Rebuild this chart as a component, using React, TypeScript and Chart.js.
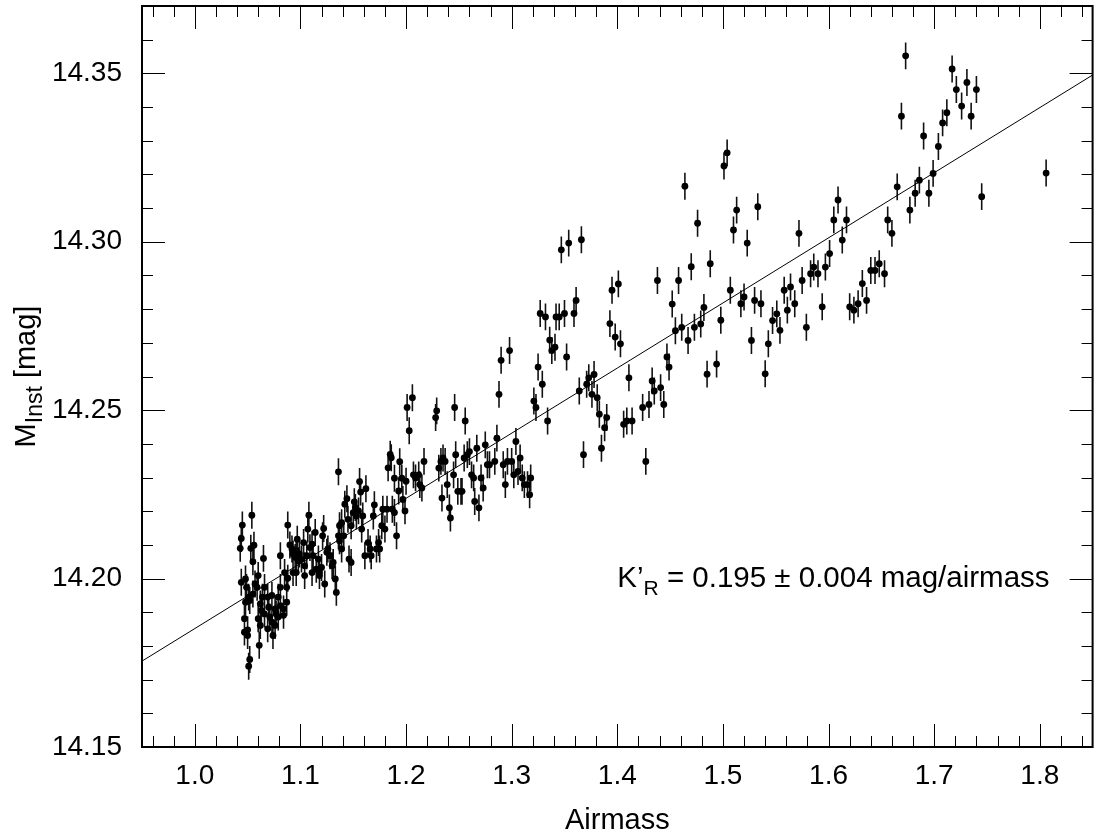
import React, { useEffect, useRef } from "react";
import { Chart, registerables } from "chart.js";

Chart.register(...registerables);

// ---------------- data ----------------
const AIRMASS: number[] = [
  // dense low-airmass cluster
  1.045, 1.044, 1.043, 1.054, 1.053, 1.056, 1.055, 1.065, 1.044, 1.048,
  1.049, 1.057, 1.060, 1.059, 1.055, 1.051, 1.048, 1.052, 1.066, 1.064,
  1.069, 1.073, 1.079, 1.081, 1.087, 1.062, 1.063, 1.066, 1.070, 1.071,
  1.076, 1.077, 1.081, 1.084, 1.087, 1.060, 1.062, 1.069, 1.073, 1.076,
  1.079, 1.084, 1.047, 1.047, 1.050, 1.050, 1.061, 1.074, 1.052, 1.051,
  1.081, 1.085, 1.088,
  // 1.09 - 1.135
  1.088, 1.090, 1.092, 1.093, 1.095, 1.097, 1.096, 1.098, 1.099, 1.101,
  1.103, 1.104, 1.106, 1.107, 1.108, 1.109, 1.111, 1.112, 1.114, 1.115,
  1.117, 1.118, 1.120, 1.121, 1.122, 1.123, 1.125, 1.126, 1.128, 1.130,
  1.131, 1.133, 1.134, 1.136, 1.093, 1.096, 1.104, 1.111, 1.118,
  // 1.135 - 1.20
  1.137, 1.139, 1.136, 1.137, 1.139, 1.141, 1.142, 1.144, 1.145, 1.146,
  1.148, 1.148, 1.150, 1.151, 1.152, 1.153, 1.155, 1.156, 1.157, 1.159,
  1.162, 1.158, 1.161, 1.164, 1.166, 1.167, 1.169, 1.170, 1.172, 1.174,
  1.175, 1.177, 1.178, 1.180, 1.182, 1.183, 1.185, 1.186, 1.187, 1.189,
  1.189, 1.191, 1.193, 1.194, 1.196, 1.197, 1.199,
  // 1.20 - 1.32
  1.201, 1.206, 1.203, 1.229, 1.228, 1.246, 1.256, 1.288, 1.329, 1.321,
  1.323, 1.334, 1.200, 1.207, 1.209, 1.212, 1.213, 1.215, 1.217, 1.231,
  1.233, 1.235, 1.237, 1.234, 1.239, 1.241, 1.242, 1.245, 1.247, 1.249,
  1.252, 1.253, 1.255, 1.258, 1.260, 1.262, 1.264, 1.265, 1.267, 1.269,
  1.271, 1.273, 1.275, 1.277, 1.279, 1.284, 1.286, 1.292, 1.294, 1.296,
  1.300, 1.302, 1.304, 1.306, 1.308, 1.310, 1.312, 1.315, 1.317, 1.318,
  // 1.29 - 1.515
  1.347, 1.354, 1.366, 1.290, 1.298, 1.327, 1.332, 1.342, 1.345, 1.350,
  1.359, 1.361, 1.336, 1.338, 1.341, 1.352, 1.325, 1.364, 1.371, 1.373,
  1.378, 1.376, 1.381, 1.383, 1.388, 1.390, 1.385, 1.368, 1.393, 1.398,
  1.403, 1.395, 1.401, 1.411, 1.406, 1.409, 1.414, 1.424, 1.430, 1.433,
  1.435, 1.441, 1.444, 1.427, 1.438, 1.447, 1.449, 1.452, 1.455, 1.458,
  1.461, 1.467, 1.470, 1.473, 1.476, 1.479, 1.482, 1.485, 1.488, 1.494,
  1.498, 1.507, 1.510, 1.513,
  // 1.50 - 1.70
  1.501, 1.504, 1.523, 1.533, 1.572, 1.517, 1.520, 1.530, 1.536, 1.527,
  1.540, 1.543, 1.547, 1.551, 1.554, 1.558, 1.561, 1.564, 1.568, 1.575,
  1.579, 1.583, 1.586, 1.590, 1.594, 1.597, 1.601, 1.605, 1.609, 1.613,
  1.617, 1.620, 1.624, 1.628, 1.632, 1.636, 1.640, 1.644, 1.648, 1.653,
  1.656, 1.660, 1.665, 1.677, 1.682, 1.686, 1.695, 1.699,
  // high airmass
  1.673, 1.669, 1.717, 1.721, 1.731, 1.740, 1.726, 1.735, 1.712, 1.708,
  1.690, 1.704, 1.806, 1.745,
  1.464,
];

const MAG: number[] = [
  14.2159, 14.2119, 14.2090, 14.2188, 14.2090, 14.2099, 14.2050, 14.2060, 14.1989, 14.1999,
  14.1974, 14.1984, 14.2009, 14.1974, 14.1954, 14.1945, 14.1930, 14.1935, 14.1974, 14.1945,
  14.1945, 14.1950, 14.1945, 14.1974, 14.1974, 14.1925, 14.1905, 14.1895, 14.1915, 14.1886,
  14.1910, 14.1895, 14.1920, 14.1910, 14.1930, 14.1881, 14.1861, 14.1851, 14.1871, 14.1861,
  14.1886, 14.1891, 14.1881, 14.1841, 14.1848, 14.1831, 14.1802, 14.1831, 14.1760, 14.1740,
  14.2068, 14.2018, 14.2001,
  14.2159, 14.2100, 14.2088, 14.2073, 14.2063, 14.2117, 14.2083, 14.2053, 14.2073, 14.2058,
  14.2107, 14.2038, 14.2068, 14.2147, 14.2188, 14.2092, 14.2102, 14.2068, 14.2137, 14.2028,
  14.2058, 14.2018, 14.2033, 14.2127, 14.2149, 14.1984, 14.2078, 14.2088, 14.2068, 14.2038,
  14.2048, 14.1999, 14.1959, 14.2317, 14.2018, 14.2018, 14.2009, 14.2018, 14.2009,
  14.2157, 14.2166, 14.2127, 14.2112, 14.2088, 14.2127, 14.2221, 14.2237, 14.2176, 14.2058,
  14.2048, 14.2157, 14.2196, 14.2228, 14.2211, 14.2186, 14.2201, 14.2288, 14.2257, 14.2186,
  14.2267, 14.2147, 14.2068, 14.2107, 14.2088, 14.2068, 14.2186, 14.2219, 14.2088, 14.2107,
  14.2088, 14.2157, 14.2206, 14.2147, 14.2206, 14.2329, 14.2369, 14.2359, 14.2206, 14.2298,
  14.2196, 14.2127, 14.2260, 14.2347, 14.2298, 14.2235, 14.2201,
  14.2508, 14.2537, 14.2439, 14.2498, 14.2478, 14.2508, 14.2468, 14.2547, 14.2577, 14.2527,
  14.2508, 14.2468, 14.2289, 14.2308, 14.2299, 14.2308, 14.2279, 14.2269, 14.2348, 14.2328,
  14.2348, 14.2358, 14.2348, 14.2239, 14.2279, 14.2210, 14.2180, 14.2308, 14.2368, 14.2259,
  14.2259, 14.2259, 14.2358, 14.2368, 14.2377, 14.2308, 14.2299, 14.2229, 14.2387, 14.2210,
  14.2299, 14.2269, 14.2397, 14.2338, 14.2338, 14.2348, 14.2417, 14.2338, 14.2279, 14.2348,
  14.2348, 14.2308, 14.2407, 14.2318, 14.2358, 14.2299, 14.2279, 14.2279, 14.2249, 14.2299,
  14.2976, 14.2996, 14.3006, 14.2648, 14.2677, 14.2787, 14.2777, 14.2777, 14.2777, 14.2787,
  14.2787, 14.2826, 14.2708, 14.2677, 14.2687, 14.2658, 14.2628, 14.2557, 14.2577, 14.2596,
  14.2606, 14.2547, 14.2537, 14.2488, 14.2448, 14.2478, 14.2387, 14.2368, 14.2757, 14.2717,
  14.2697, 14.2856, 14.2875, 14.2596, 14.2458, 14.2468, 14.2468, 14.2508, 14.2517, 14.2587,
  14.2557, 14.2567, 14.2517, 14.2348, 14.2885, 14.2658, 14.2628, 14.2815, 14.2736, 14.2885,
  14.2746, 14.2707, 14.2926, 14.2746, 14.3055, 14.2756, 14.2805, 14.2607, 14.2935, 14.2637,
  14.2767, 14.2856, 14.3035, 14.3094,
  14.3225, 14.3264, 14.2996, 14.3104, 14.3025, 14.2816, 14.2836, 14.2826, 14.2816, 14.2707,
  14.2608, 14.2697, 14.2766, 14.2786, 14.2737, 14.2856, 14.2797, 14.2866, 14.2816, 14.2885,
  14.2746, 14.2905, 14.2925, 14.2905, 14.2807, 14.2925, 14.2965, 14.3065, 14.3124, 14.3005,
  14.3065, 14.2807, 14.2797, 14.2816, 14.2876, 14.2826, 14.2915, 14.2915, 14.2935, 14.2905,
  14.3065, 14.3025, 14.3163, 14.3094, 14.3144, 14.3183, 14.3144, 14.3203,
  14.3552, 14.3373, 14.3513, 14.3452, 14.3473, 14.3452, 14.3403, 14.3373, 14.3383, 14.3353,
  14.3314, 14.3283, 14.3204, 14.3134,
  14.3165,
];

const MAG_ERR = 0.004;

// linear fit (extinction line)
const FIT_X: number[] = [0.95, 1.85];
const FIT_Y: number[] = [14.1755, 14.3495];

// axes
const X_MIN = 0.95;
const X_MAX = 1.85;
const Y_MIN = 14.15;
const Y_MAX = 14.37;
const X_TICKS: number[] = [1.0, 1.1, 1.2, 1.3, 1.4, 1.5, 1.6, 1.7, 1.8];
const Y_TICKS: number[] = [14.15, 14.2, 14.25, 14.3, 14.35];
const X_MINOR_STEP = 0.02;
const Y_MINOR_STEP = 0.01;

const X_TITLE = "Airmass";
const Y_TITLE_MAIN = "M";
const Y_TITLE_SUB = "Inst";
const Y_TITLE_REST = " [mag]";
const NOTE_MAIN = "K\u2019";
const NOTE_SUB = "R";
const NOTE_REST = " = 0.195 \u00b1 0.004 mag/airmass";
const NOTE_AT = { x: 1.4, y: 14.1976 };

const FONT = '"Liberation Sans", Arial, Helvetica, sans-serif';

const errorBars = {
  id: "errorBars",
  beforeDatasetsDraw(chart: any) {
    const { ctx, chartArea, scales } = chart;
    const x = scales.x;
    const y = scales.y;
    ctx.save();
    ctx.beginPath();
    ctx.rect(chartArea.left, chartArea.top, chartArea.right - chartArea.left, chartArea.bottom - chartArea.top);
    ctx.clip();
    ctx.strokeStyle = "#111";
    ctx.lineWidth = 1.6;
    ctx.beginPath();
    for (let i = 0; i < AIRMASS.length; i++) {
      const px = x.getPixelForValue(AIRMASS[i]);
      ctx.moveTo(px, y.getPixelForValue(MAG[i] - MAG_ERR));
      ctx.lineTo(px, y.getPixelForValue(MAG[i] + MAG_ERR));
    }
    ctx.stroke();
    ctx.restore();
  },
};

const frameAndText = {
  id: "frameAndText",
  afterDraw(chart: any) {
    const { ctx, chartArea, scales } = chart;
    const x = scales.x;
    const y = scales.y;
    const { left, right, top, bottom } = chartArea;
    ctx.save();
    // frame
    ctx.strokeStyle = "#000";
    ctx.lineWidth = 2;
    ctx.strokeRect(left, top, right - left, bottom - top);

    // ticks
    ctx.lineWidth = 1;
    ctx.beginPath();
    const MAJ = 23;
    const MIN = 11;
    const near = (a: number, b: number) => Math.abs(a - b) < 1e-6;
    for (let v = X_MIN + X_MINOR_STEP / 2; v < X_MAX; v += X_MINOR_STEP) {
      const val = Math.round(v * 100) / 100;
      if (val <= X_MIN || val >= X_MAX) continue;
      const isMaj = X_TICKS.some((t) => near(t, val));
      const len = isMaj ? MAJ : MIN;
      const px = Math.round(x.getPixelForValue(val)) + 0.5;
      ctx.moveTo(px, bottom);
      ctx.lineTo(px, bottom - len);
      ctx.moveTo(px, top);
      ctx.lineTo(px, top + len);
    }
    for (let v = Y_MIN; v < Y_MAX + 1e-9; v += Y_MINOR_STEP) {
      const val = Math.round(v * 100) / 100;
      if (val <= Y_MIN || val >= Y_MAX) continue;
      const isMaj = Y_TICKS.some((t) => near(t, val));
      const len = isMaj ? MAJ : MIN;
      const py = Math.round(y.getPixelForValue(val)) + 0.5;
      ctx.moveTo(left, py);
      ctx.lineTo(left + len, py);
      ctx.moveTo(right, py);
      ctx.lineTo(right - len, py);
    }
    ctx.stroke();

    ctx.fillStyle = "#000";
    // x title
    ctx.font = `29px ${FONT}`;
    ctx.textAlign = "center";
    ctx.textBaseline = "alphabetic";
    ctx.fillText(X_TITLE, (left + right) / 2, 829);

    // y title (rotated, with subscript)
    const bigF = `29px ${FONT}`;
    const subF = `23px ${FONT}`;
    ctx.font = bigF;
    const wM = ctx.measureText(Y_TITLE_MAIN).width;
    const wR = ctx.measureText(Y_TITLE_REST).width;
    ctx.font = subF;
    const wS = ctx.measureText(Y_TITLE_SUB).width;
    const total = wM + wS + wR;
    ctx.save();
    ctx.translate(35, (top + bottom) / 2);
    ctx.rotate(-Math.PI / 2);
    ctx.textAlign = "left";
    let cx = -total / 2;
    ctx.font = bigF;
    ctx.fillText(Y_TITLE_MAIN, cx, 0);
    cx += wM;
    ctx.font = subF;
    ctx.fillText(Y_TITLE_SUB, cx, 7);
    cx += wS;
    ctx.font = bigF;
    ctx.fillText(Y_TITLE_REST, cx, 0);
    ctx.restore();

    // annotation
    const noteF = `29.5px ${FONT}`;
    const noteSubF = `21px ${FONT}`;
    const ax = x.getPixelForValue(NOTE_AT.x);
    const ay = y.getPixelForValue(NOTE_AT.y);
    ctx.textAlign = "left";
    let nx = ax;
    ctx.font = noteF;
    ctx.fillText(NOTE_MAIN, nx, ay);
    nx += ctx.measureText(NOTE_MAIN).width;
    ctx.font = noteSubF;
    ctx.fillText(NOTE_SUB, nx, ay + 8);
    nx += ctx.measureText(NOTE_SUB).width;
    ctx.font = noteF;
    ctx.fillText(NOTE_REST, nx, ay);

    ctx.restore();
  },
};

export default function App() {
  const ref = useRef<HTMLCanvasElement | null>(null);

  useEffect(() => {
    if (!ref.current) return;
    const points = AIRMASS.map((a, i) => ({ x: a, y: MAG[i] }));
    const fit = FIT_X.map((a, i) => ({ x: a, y: FIT_Y[i] }));
    const chart = new Chart(ref.current, {
      type: "scatter",
      data: {
        datasets: [
          {
            label: "data",
            data: points,
            pointRadius: 3.4,
            pointHoverRadius: 3.4,
            backgroundColor: "#000",
            borderColor: "#000",
            borderWidth: 0,
          },
          {
            label: "fit",
            data: fit,
            showLine: true,
            borderColor: "#000",
            borderWidth: 1,
            pointRadius: 0,
            fill: false,
          },
        ],
      },
      options: {
        responsive: false,
        animation: false,
        devicePixelRatio: 1,
        layout: { padding: { left: 0, right: 3, top: 6, bottom: 0 } },
        plugins: { legend: { display: false }, tooltip: { enabled: false } },
        events: [],
        scales: {
          x: {
            type: "linear",
            min: X_MIN,
            max: X_MAX,
            grid: { display: false, drawTicks: false },
            border: { display: false },
            afterBuildTicks: (s: any) => {
              s.ticks = X_TICKS.map((v) => ({ value: v }));
            },
            afterFit: (s: any) => {
              s.height = 89;
              s.paddingLeft = 0;
              s.paddingRight = 0;
              s.paddingTop = 0;
              s.paddingBottom = 0;
            },
            ticks: {
              callback: (v: any) => Number(v).toFixed(1),
              font: { family: FONT, size: 28 },
              color: "#000",
              padding: 12,
              maxRotation: 0,
              autoSkip: false,
            },
          },
          y: {
            type: "linear",
            min: Y_MIN,
            max: Y_MAX,
            grid: { display: false, drawTicks: false },
            border: { display: false },
            afterBuildTicks: (s: any) => {
              s.ticks = Y_TICKS.map((v) => ({ value: v }));
            },
            afterFit: (s: any) => {
              s.width = 142;
              s.paddingLeft = 0;
              s.paddingRight = 0;
              s.paddingTop = 0;
              s.paddingBottom = 0;
            },
            ticks: {
              callback: (v: any) => Number(v).toFixed(2),
              font: { family: FONT, size: 28 },
              color: "#000",
              padding: 20,
              autoSkip: false,
            },
          },
        },
      },
      plugins: [errorBars, frameAndText],
    });
    return () => chart.destroy();
  }, []);

  return (
    <div style={{ position: "absolute", left: 0, top: 0, width: 1096, height: 836, background: "#fff" }}>
      <canvas ref={ref} width={1096} height={836} style={{ display: "block" }} />
    </div>
  );
}
